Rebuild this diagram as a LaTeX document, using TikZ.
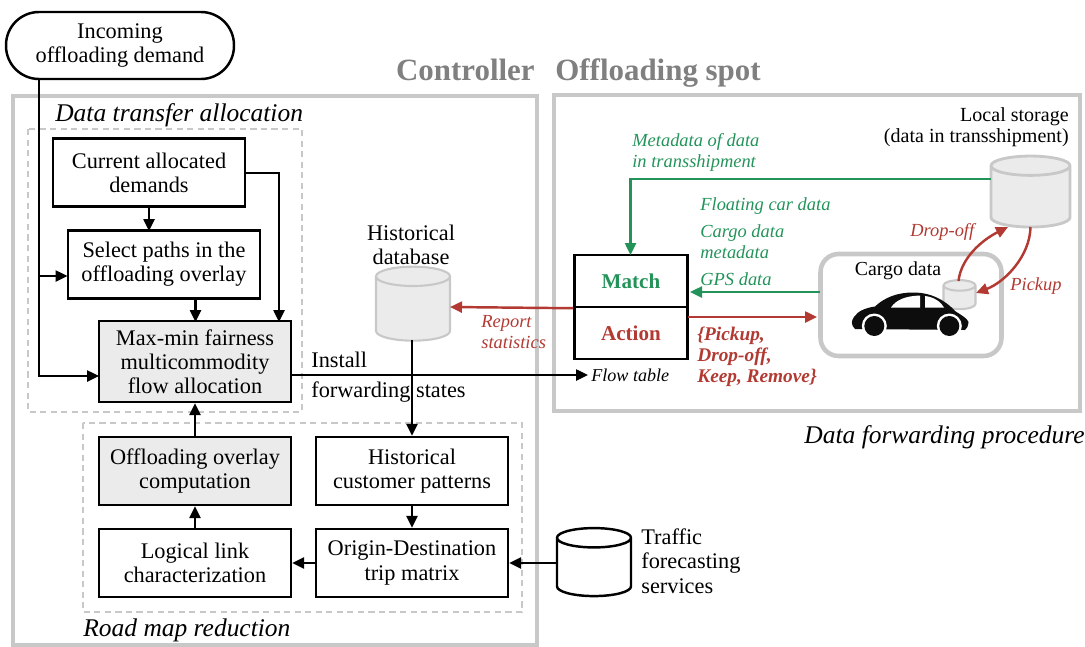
\documentclass[tikz,border=0pt]{standalone}
\usepackage{fontspec}
\setmainfont{Liberation Serif}
\usetikzlibrary{arrows.meta,shapes.geometric}

\definecolor{framegray}{HTML}{C8C8C8}
\definecolor{titlegray}{HTML}{808080}
\definecolor{boxgray}{HTML}{EBEBEB}
\definecolor{matchgreen}{HTML}{23935A}
\definecolor{actionred}{HTML}{B23A32}

\tikzset{
  txt/.style={inner sep=0pt, font=\fontsize{12.7}{13.8}\selectfont, align=center},
  lefttxt/.style={txt, anchor=west, align=left},
  smalltxt/.style={lefttxt, font=\fontsize{10.5}{12}\selectfont\itshape},
  areatxt/.style={inner sep=0pt, anchor=base west, font=\fontsize{14.5}{15}\selectfont\itshape},
  titletxt/.style={inner sep=0pt, font=\fontsize{17.6}{19}\selectfont\bfseries, text=titlegray},
  blockbox/.style={txt, draw=black, line width=1.4pt, minimum width=3.84cm, minimum height=1.36cm},
  tablebox/.style={txt, draw=black, line width=1.4pt, minimum width=2.26cm, minimum height=1.04cm},
  framebox/.style={draw=framegray, line width=2.6pt},
  areabox/.style={draw=framegray, line width=0.8pt, dash pattern=on 3.5pt off 2.5pt},
  store/.style={draw, cylinder, shape border rotate=90, aspect=5.5, inner sep=1pt},
  flow/.style={line width=1.4pt, -{Triangle[length=2.4mm,width=2.2mm]}},
}

\begin{document}
\begin{tikzpicture}[x=0.02cm, y=-0.02cm]
  \useasboundingbox (0,0) rectangle (1085,646);

  % Outer frames
  \draw[framebox] (13,96) rectangle (537,645);
  \draw[framebox] (554,95) rectangle (1080,411);
  \node[titletxt, anchor=base east] (controllertitle) at (535,80) {Controller};
  \node[titletxt, anchor=base west] (spottitle) at (555,80) {Offloading spot};

  % Dashed areas and their names
  \draw[areabox] (28,129) rectangle (302,412);
  \draw[areabox] (83,423) rectangle (522,612);
  \node[areatxt] (allocationname) at (55,121) {Data transfer allocation};
  \node[areatxt] (reductionname) at (83,636) {Road map reduction};
  \node[areatxt, anchor=base east] (forwardingname) at (1085,443) {Data forwarding procedure};

  % Controller blocks
  \node[txt, draw=black, line width=1.4pt, rounded corners=0.66cm, minimum width=4.56cm, minimum height=1.34cm, fill=white] (demand) at (120,45.5) {Incoming\\offloading demand};
  \node[blockbox] (allocated) at (149,172.5) {Current allocated\\demands};
  \node[blockbox] (select) at (164,264.5) {Select paths in the\\offloading overlay};
  \node[blockbox, fill=boxgray, minimum height=1.62cm] (maxmin) at (195,361.5) {Max-min fairness\\multicommodity\\flow allocation};
  \node[blockbox, fill=boxgray] (overlay) at (195,471) {Offloading overlay\\computation};
  \node[blockbox] (patterns) at (412,471) {Historical\\customer patterns};
  \node[blockbox] (linkchar) at (195,563) {Logical link\\characterization};
  \node[blockbox] (tripmatrix) at (412,563) {Origin-Destination\\trip matrix};

  % Databases
  \node[store, draw=framegray, line width=1.2pt, fill=boxgray, minimum width=1.48cm, minimum height=1.48cm] (histdb) at (413,310.5) {};
  \node[txt] (histdbname) at (411,245) {Historical\\database};
  \node[store, draw=black, line width=1.4pt, minimum width=1.48cm, minimum height=1.36cm] (traffic) at (594,569) {};
  \node[lefttxt] (trafficname) at (641,561) {Traffic\\forecasting\\services};

  % Switch table
  \node[tablebox, font=\fontsize{12}{13.6}\selectfont\bfseries, text=matchgreen] (match) at (631,281) {Match};
  \node[tablebox, font=\fontsize{12}{13.6}\selectfont\bfseries, text=actionred] (action) at (631,333) {Action};
  \node[smalltxt, font=\fontsize{10.3}{12}\selectfont\itshape] (flowtable) at (591,375) {Flow table};
  \node[lefttxt] (install) at (311,360) {Install};
  \node[lefttxt] (states) at (311,392) {forwarding states};

  % Offloading spot contents
  \node[store, draw=framegray, line width=1.6pt, fill=boxgray, minimum width=1.58cm, minimum height=1.42cm] (localdb) at (1030.5,198.5) {};
  \node[txt, anchor=east, align=right, font=\fontsize{11.4}{12}\selectfont] (localname) at (1069,127) {Local storage\\(data in transshipment)};
  \node[draw=framegray, line width=2.6pt, rounded corners=0.36cm, minimum width=3.62cm, minimum height=2.04cm] (cargobox) at (911,305) {};
  \node[txt, font=\fontsize{11.3}{12}\selectfont] (cargoname) at (898,271) {Cargo data};
  \node[store, draw=framegray, line width=1.2pt, fill=boxgray, aspect=3, minimum width=0.64cm, minimum height=0.58cm] (cargodb) at (959.5,299) {};

  % Car
  \fill[black!95] (855,329) .. controls (851,325) and (851,321) .. (854,317)
    .. controls (858,311) and (865,308) .. (875,306.5)
    .. controls (885,297) and (898,292.5) .. (913,292.5)
    .. controls (930,292.5) and (944,299) .. (955,311)
    .. controls (961,315) and (967,318) .. (968.5,322)
    .. controls (968,326) and (967,329) .. (965,330) -- cycle;
  \fill[white] (891,307.5) .. controls (896,300) and (905,296) .. (920,295.5) -- (920,307.5) -- cycle;
  \fill[white] (925,296) .. controls (934,297) and (941,302) .. (944,307.5) -- (925,307.5) -- cycle;
  \fill[white] (874.3,326) circle (12.5);
  \fill[white] (949.3,326) circle (12.5);
  \fill[black!95] (874.3,326) circle (10);
  \fill[black!95] (949.3,326) circle (10);

  % Free ends of the connectors
  \coordinate (demandout) at (39,79);
  \coordinate (demandtap) at (39,276);
  \coordinate (selectin) at (67.5,276);
  \coordinate (maxminin) at (99,376);
  \coordinate (maxminout) at (291,375);
  \coordinate (flowin) at (588,375);
  \coordinate (allocatedout) at (245,173);
  \coordinate (maxmintop) at (279,322);
  \coordinate (selectout) at (195.5,298);
  \coordinate (maxminmid) at (195.5,322);
  \coordinate (allocatedout2) at (149,207);
  \coordinate (selecttop) at (149,231);
  \coordinate (histdbout) at (412,340);
  \coordinate (matchtop) at (630.5,255);
  \coordinate (localout) at (991,179);
  \coordinate (cargoout) at (820,292);
  \coordinate (matchin) at (690,292);
  \coordinate (actionout) at (688,317);
  \coordinate (cargoin) at (817,317);
  \coordinate (dropstart) at (958.5,281);
  \coordinate (dropend) at (1008,227);
  \coordinate (pickstart) at (1030.5,227);
  \coordinate (pickend) at (976,293);
  \coordinate (trafficout) at (557,563);
  \coordinate (histdbin) at (450,307);

  % Black connectors
  \draw[flow] (demandout) |- (maxminin);
  \draw[flow] (demandtap) -- (selectin);
  \draw[flow] (allocatedout2) -- (selecttop);
  \draw[flow] (allocatedout) -| (maxmintop);
  \draw[flow] (selectout) -- (maxminmid);
  \draw[flow] (overlay.north) -- (maxmin.south);
  \draw[flow] (linkchar.north) -- (overlay.south);
  \draw[flow] (tripmatrix.west) -- (linkchar.east);
  \draw[flow] (patterns.south) -- (tripmatrix.north);
  \draw[flow] (trafficout) -- (tripmatrix.east);
  \draw[flow] (histdbout) -- (patterns.north);
  \draw[flow] (maxminout) -- (flowin);

  % Green connectors
  \draw[flow, matchgreen] (localout) -| (matchtop);
  \draw[flow, matchgreen] (cargoout) -- (matchin);
  \node[smalltxt, text=matchgreen] (metaname) at (632,152.5) {Metadata of data\\in transshipment};
  \node[smalltxt, text=matchgreen] (fcdname) at (700,206) {Floating car data};
  \node[smalltxt, text=matchgreen] (cargometaname) at (700,241.5) {Cargo data\\metadata};
  \node[smalltxt, text=matchgreen] (gpsname) at (700,279) {GPS data};

  % Red connectors
  \draw[flow, actionred] (match.south west) -- (histdbin);
  \draw[flow, actionred] (actionout) -- (cargoin);
  \draw[flow, actionred] (dropstart) .. controls (961,258) and (982,240) .. (dropend);
  \draw[flow, actionred] (pickstart) .. controls (1030,256) and (1005,282) .. (pickend);
  \node[smalltxt, text=actionred] (reportname) at (481,332.5) {Report\\statistics};
  \node[smalltxt, text=actionred] (dropname) at (910,232) {Drop-off};
  \node[smalltxt, text=actionred] (pickname) at (1010,286) {Pickup};
  \node[smalltxt, text=actionred, font=\fontsize{11}{12}\selectfont\bfseries\itshape] (actionsname) at (697,357) {\{Pickup,\\Drop-off,\\Keep, Remove\}};
\end{tikzpicture}
\end{document}
